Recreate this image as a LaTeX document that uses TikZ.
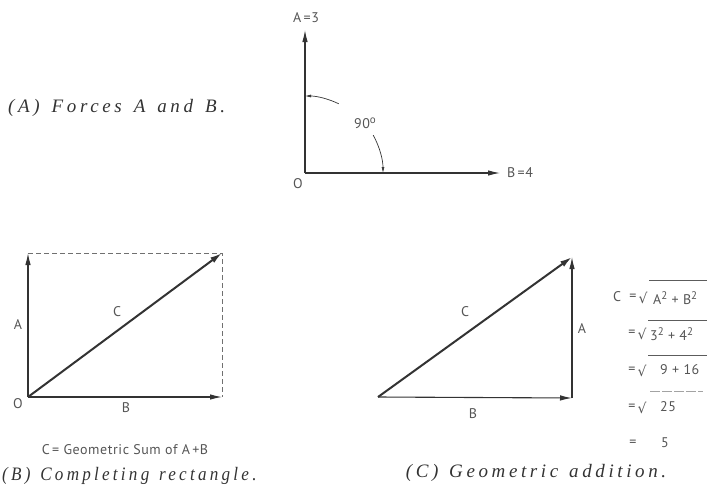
\documentclass[tikz,border=0pt]{standalone}
\usepackage{fontspec}
\usetikzlibrary{arrows.meta}
\newfontfamily\lblfont[LetterSpace=4]{PT Sans}
\newfontfamily\capfont[LetterSpace=19,WordSpace=1.3]{Liberation Serif}
\newfontfamily\symfont{DejaVu Sans}
\definecolor{ink}{HTML}{333333}
\definecolor{txt}{HTML}{555555}
\newcommand{\sqr}[1]{\raisebox{5pt}{\fontsize{11}{11}\selectfont #1}}
\begin{document}
\begin{tikzpicture}[x=1pt,y=-1pt,
  vec/.style={draw=ink,line width=1.1pt,-{Latex[length=12pt,width=5.5pt]}},
  res/.style={draw=ink,line width=2pt,-{Latex[length=12pt,width=6.5pt]}},
  guide/.style={draw=ink!70,line width=0.8pt,dash pattern=on 5pt off 3pt},
  anglearc/.style={draw=ink,line width=0.7pt,-{Latex[length=6pt,width=3pt]}},
  lbl/.style={text=txt,font=\lblfont\fontsize{14}{16}\selectfont,inner sep=0pt},
  captext/.style={text=ink,font=\capfont\itshape\fontsize{19}{21}\selectfont,inner sep=0pt},
  rad/.style={text=txt,font=\symfont\fontsize{14}{16}\selectfont,inner sep=0pt},
  bar/.style={draw=ink!80,line width=0.6pt}]
\useasboundingbox (0,0) rectangle (707,488);

% ---------- (A) ----------
\coordinate (O1) at (305,173);
\coordinate (A1tip) at (305,30);
\coordinate (B1tip) at (500,173);
\draw[vec] (O1) -- (A1tip);
\draw[vec] (O1) -- (B1tip);
\draw[anglearc] (O1) ++(-64:77) arc[start angle=-64,end angle=-90,radius=77];
\draw[anglearc] (O1) ++(-29:78) arc[start angle=-29,end angle=0,radius=78];
\node[lbl] (lA1) at (306,18) {A\,=3};
\node[lbl] (lB1) at (520,173) {B\,=4};
\node[lbl] (lO1) at (298,184) {O};
\node[lbl] (l90) at (365,123) {90\sqr{o}};
\node[captext,anchor=west] (capA) at (8,108) {\spaceskip=12pt\relax (A) Forces A and B.};

% ---------- (B) ----------
\coordinate (O2) at (28,397);
\coordinate (A2) at (28,253);
\coordinate (B2) at (222,397);
\coordinate (R2) at (222,253);
\draw[guide] (A2) -- (R2) -- (B2);
\draw[vec] (O2) -- (A2);
\draw[vec] (O2) -- (B2);
\draw[res] (O2) -- (R2);
\node[lbl] (lA2) at (18,325) {A};
\node[lbl] (lC2) at (117,312) {C};
\node[lbl] (lO2) at (18,404) {O};
\node[lbl] (lB2) at (126,408) {B};
\node[lbl] (sum) at (125,450) {C\,= Geometric Sum of A\,+B};
\node[captext,anchor=west] (capB) at (2,476) {\scalebox{0.9}[1]{(B) Completing rectangle.}};

% ---------- (C) ----------
\coordinate (T3) at (378,397);
\coordinate (K3) at (572,398);
\coordinate (P3) at (572,257);
\draw[vec] (T3) -- (K3);
\draw[vec] (K3) -- (P3);
\draw[res] (T3) -- (P3);
\node[lbl] (lC3) at (465,312) {C};
\node[lbl] (lA3) at (582,329) {A};
\node[lbl] (lB3) at (473,414) {B};
\node[captext] (capC) at (536,473) {(C) Geometric addition.};

% ---------- equations ----------
\node[lbl] (eC) at (617,297) {C};
\node[lbl] (e1) at (633,297) {=};
\node[rad] (r1) at (643,298) {√};
\draw[bar] (649,280) -- (707,280);
\node[lbl,anchor=west] (t1) at (653,298) {A\sqr{2} + B\sqr{2}};

\node[lbl] (e2) at (632,333) {=};
\node[rad] (r2) at (642,334) {√};
\draw[bar] (648,320) -- (707,320);
\node[lbl,anchor=west] (t2) at (650,334) {3\sqr{2} + 4\sqr{2}};

\node[lbl] (e3) at (632,370) {=};
\node[rad] (r3) at (642,371) {√};
\draw[bar] (648,355) -- (707,355);
\node[lbl,anchor=west] (t3) at (660,370) {9 + 16};

\node[lbl] (e4) at (632,407) {=};
\node[rad] (r4) at (642,408) {√};
\draw[bar,draw=ink!45,dash pattern=on 10pt off 2pt] (650,391) -- (703,391);
\node[lbl,anchor=west] (t4) at (660,407) {25};

\node[lbl] (e5) at (633,443) {=};
\node[lbl] (t5) at (665,443) {5};
\end{tikzpicture}
\end{document}
